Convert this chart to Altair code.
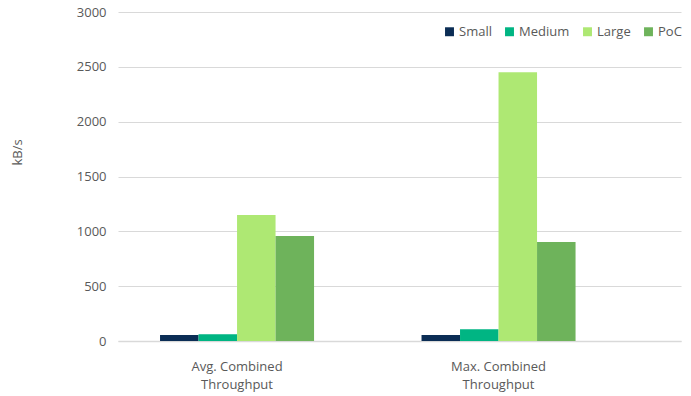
import altair as alt
import pandas as pd

categories = ["Avg. Combined Throughput", "Max. Combined Throughput"]
series = ["Small", "Medium", "Large", "PoC"]
small = [55, 55]
medium = [62, 108]
large = [1150, 2450]
poc = [958, 902]
colors = ["#0b2d55", "#00b583", "#aee873", "#6eb35b"]

rows = []
for i, c in enumerate(categories):
    for s, vals in zip(series, [small, medium, large, poc]):
        rows.append({"cat": c, "series": s, "value": vals[i]})
df = pd.DataFrame(rows)

FONT = "Open Sans"
GRAY = "#595959"

chart = alt.Chart(df).mark_bar().encode(
    x=alt.X("cat:N", sort=categories, title=None,
            scale=alt.Scale(paddingInner=0.411, paddingOuter=0.282, align=0.285),
            axis=alt.Axis(labelAngle=0, ticks=False, labelPadding=19,
                          labelExpr="split(replace(datum.label, ' Throughput', '|Throughput'), '|')",
                          labelLineHeight=18, domainColor="#d9d9d9", domainWidth=1.5,
                          labelFont=FONT, labelFontSize=13, labelColor=GRAY)),
    xOffset=alt.XOffset("series:N", sort=series, scale=alt.Scale(paddingInner=0, paddingOuter=0)),
    y=alt.Y("value:Q", scale=alt.Scale(domain=[0, 3000]),
            axis=alt.Axis(values=[0, 500, 1000, 1500, 2000, 2500, 3000], title="kB/s", format="d",
                          domain=False, ticks=False, labelPadding=12, gridColor="#d9d9d9",
                          titleX=-94, titleY=140, titleFont=FONT, titleFontSize=13,
                          titleFontWeight="normal", titleColor=GRAY,
                          labelFont=FONT, labelFontSize=13, labelColor=GRAY)),
    color=alt.Color("series:N", sort=series,
                    scale=alt.Scale(domain=series, range=colors),
                    legend=alt.Legend(title=None, orient="none", direction="horizontal",
                                      legendX=325, legendY=13, symbolType="square",
                                      symbolSize=80, symbolStrokeWidth=0, columnPadding=11,
                                      labelFont=FONT, labelFontSize=13, labelColor=GRAY,
                                      labelOffset=3)),
).properties(
    width=563, height=329,
    background="white",
    autosize=alt.AutoSizeParams(type="none"),
    padding={"left": 118, "top": 12, "right": 10, "bottom": 55},
).configure_view(stroke=None)

chart.save("out.html", embed_options={"renderer": "svg", "actions": False})
